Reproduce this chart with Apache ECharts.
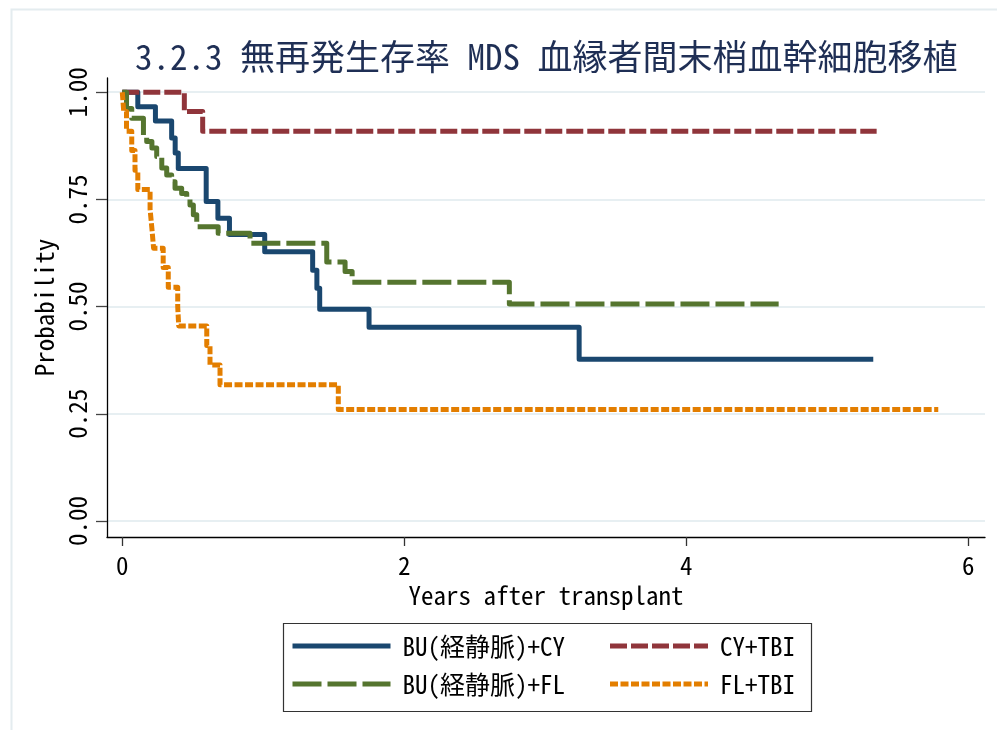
<!DOCTYPE html>
<html>
<head>
<meta charset="utf-8">
<script src="https://cdn.jsdelivr.net/npm/echarts@6/dist/echarts.min.js"></script>
<style>
html,body{margin:0;padding:0;background:#fff;}
#chart{width:997px;height:730px;}
</style>
</head>
<body>
<div id="chart"></div>
<script>
// ---- Data ----
const titleText = '3.2.3 無再発生存率 MDS 血縁者間末梢血幹細胞移植';
const seriesNames = ['BU(経静脈)+CY', 'CY+TBI', 'BU(経静脈)+FL', 'FL+TBI'];
const xTicks = [0, 2, 4, 6];
const yTicks = [0, 0.25, 0.5, 0.75, 1];

const buCyTime = [0, 0.11, 0.235, 0.35, 0.375, 0.397, 0.595, 0.678, 0.76, 1.01, 1.35, 1.38, 1.40, 1.75, 3.24, 5.326];
const buCySurv = [1, 0.966, 0.933, 0.893, 0.858, 0.822, 0.745, 0.706, 0.668, 0.628, 0.585, 0.543, 0.494, 0.452, 0.377, 0.377];

const cyTbiTime = [0, 0.44, 0.57, 5.35];
const cyTbiSurv = [1, 0.955, 0.909, 0.909];

const buFlTime = [0, 0.03, 0.067, 0.15, 0.173, 0.21, 0.244, 0.28, 0.315, 0.35, 0.374, 0.421, 0.457, 0.48, 0.504, 0.528, 0.68, 0.906, 1.45, 1.58, 1.63, 2.745, 4.655];
const buFlSurv = [1, 0.962, 0.939, 0.900, 0.885, 0.870, 0.850, 0.823, 0.807, 0.791, 0.776, 0.764, 0.756, 0.737, 0.714, 0.686, 0.671, 0.648, 0.604, 0.582, 0.557, 0.506, 0.506];

const flTbiTime = [0, 0.01, 0.03, 0.067, 0.09, 0.11, 0.197, 0.21, 0.222, 0.29, 0.326, 0.393, 0.40, 0.599, 0.622, 0.693, 1.532, 5.787];
const flTbiSurv = [1, 0.955, 0.909, 0.864, 0.818, 0.773, 0.727, 0.682, 0.636, 0.591, 0.545, 0.500, 0.455, 0.409, 0.364, 0.318, 0.260, 0.260];

// ---- Build ----
const FONT = "'Noto Sans Mono CJK JP', 'Noto Sans CJK JP', sans-serif";
const pairs = (t, s) => t.map((x, i) => [x, s[i]]);
const colors = ['#1a476f', '#90353b', '#55752f', '#e37e00'];
const dashes = ['solid', [17, 4], [29, 6], [8, 2.5]];
const datasets = [
  pairs(buCyTime, buCySurv),
  pairs(cyTbiTime, cyTbiSurv),
  pairs(buFlTime, buFlSurv),
  pairs(flTbiTime, flTbiSurv)
];

const chart = echarts.init(document.getElementById('chart'), null, {renderer: 'canvas'});

const legendCommon = {
  orient: 'vertical',
  padding: 0,
  itemWidth: 98,
  itemHeight: 14,
  itemGap: 8,
  selectedMode: false,
  itemStyle: {opacity: 0},
  lineStyle: {width: 5},
  textStyle: {fontFamily: FONT, fontSize: 25, color: '#000', lineHeight: 30, padding: [0, 0, 0, 7]}
};

const option = {
  animation: false,
  backgroundColor: '#fff',
  title: {
    text: titleText,
    left: 135,
    top: 39,
    textAlign: 'left',
    textVerticalAlign: 'top',
    padding: 0,
    textStyle: {fontFamily: FONT, fontSize: 35, fontWeight: 'normal', color: '#1f2f55'}
  },
  legend: [
    Object.assign({}, legendCommon, {data: [seriesNames[0], seriesNames[2]], left: 290, top: 631}),
    Object.assign({}, legendCommon, {data: [seriesNames[1], seriesNames[3]], left: 607.5, top: 631})
  ],
  graphic: [
    {type: 'rect', left: 9, top: 7, z: -10, silent: true,
     shape: {width: 1000, height: 740},
     style: {fill: 'none', stroke: '#e4ecef', lineWidth: 2}},
    {type: 'rect', left: 281, top: 621, z: -5, silent: true,
     shape: {width: 528, height: 88},
     style: {fill: 'none', stroke: '#333', lineWidth: 1.2}}
  ],
  grid: [
    {left: 107, right: 12, top: 78, bottom: 193, containLabel: false},
    {left: 107, right: 12, top: 92.2, bottom: 209, containLabel: false}
  ],
  xAxis: [
    {
      type: 'value', gridIndex: 0, min: -0.1085, max: 6.1184,
      name: 'Years after transplant', nameLocation: 'middle', nameGap: 37,
      nameTextStyle: {fontFamily: FONT, fontSize: 25, color: '#000'},
      axisLine: {show: true, onZero: false, lineStyle: {color: '#000', width: 1.3}},
      axisTick: {show: true, customValues: xTicks, length: 9, lineStyle: {color: '#333', width: 1.3}},
      axisLabel: {show: true, customValues: xTicks, margin: 16, fontFamily: FONT, fontSize: 25, color: '#000',
                  formatter: v => String(v)},
      splitLine: {show: false}
    },
    {
      type: 'value', gridIndex: 1, min: -0.1085, max: 6.1184, show: false
    }
  ],
  yAxis: [
    {
      type: 'value', gridIndex: 0, min: -0.03731, max: 1.03312,
      name: 'Probability', nameLocation: 'middle', nameGap: 35,
      nameTextStyle: {fontFamily: FONT, fontSize: 25, color: '#000'},
      axisLine: {show: true, onZero: false, lineStyle: {color: '#000', width: 1.3}},
      axisTick: {show: true, customValues: yTicks, length: 11, lineStyle: {color: '#444', width: 1.3}},
      axisLabel: {show: true, customValues: yTicks, rotate: 90, margin: 17, fontFamily: FONT, fontSize: 25, color: '#000',
                  formatter: v => v.toFixed(2)},
      splitLine: {show: false}
    },
    {
      type: 'value', gridIndex: 1, min: 0, max: 1, interval: 0.25,
      axisLine: {show: false}, axisTick: {show: false}, axisLabel: {show: false},
      splitLine: {show: true, lineStyle: {color: '#e7eff2', width: 1.8}}
    }
  ],
  series: seriesNames.map((name, i) => ({
    name: name,
    type: 'line',
    xAxisIndex: 0,
    yAxisIndex: 0,
    step: 'end',
    showSymbol: false,
    symbol: 'none',
    data: datasets[i],
    color: colors[i],
    z: 2 + i,
    lineStyle: {color: colors[i], width: 5, type: dashes[i], cap: 'butt', join: 'round'}
  }))
};

chart.setOption(option);
</script>
</body>
</html>
